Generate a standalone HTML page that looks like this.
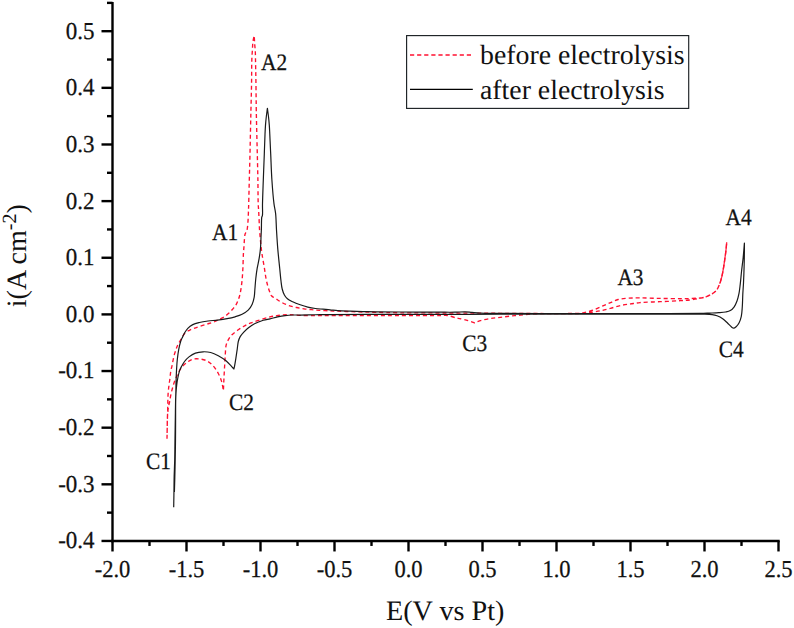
<!DOCTYPE html>
<html><head><meta charset="utf-8"><style>
html,body{margin:0;padding:0;background:#fff;overflow:hidden;width:794px;height:628px;}
svg{display:block;}
text{text-rendering:geometricPrecision;}
.t{font-family:"Liberation Serif",serif;font-size:23px;fill:#111;stroke:#111;stroke-width:0.25px;}
.ttl{font-family:"Liberation Serif",serif;font-size:27.8px;fill:#111;}
.ann{font-family:"Liberation Serif",serif;font-size:23.5px;fill:#111;stroke:#111;stroke-width:0.25px;}
</style></head><body>
<svg width="794" height="628" viewBox="0 0 794 628">
<path d="M167.00,438.70 C167.07,435.37 167.15,431.92 167.20,428.70 C167.25,425.70 167.23,422.74 167.30,420.00 C167.37,417.54 167.52,415.52 167.60,413.00 C167.69,410.05 167.72,406.59 167.80,403.40 C167.88,400.22 167.90,396.93 168.10,393.90 C168.28,391.12 168.58,388.56 168.90,385.90 C169.22,383.26 169.68,380.56 170.00,378.00 C170.30,375.60 170.43,373.15 170.80,371.00 C171.12,369.13 171.57,367.80 172.00,365.80 C172.58,363.11 173.19,359.10 173.90,356.30 C174.48,354.03 175.19,352.04 175.80,350.20 C176.31,348.66 176.62,347.51 177.30,346.00 C178.15,344.10 179.45,341.89 180.70,339.80 C182.04,337.56 183.44,334.64 185.10,333.00 C186.41,331.70 187.93,331.07 189.40,330.30 C190.83,329.55 192.13,329.05 193.80,328.40 C195.96,327.56 198.78,326.62 201.30,325.80 C203.82,324.98 206.52,324.26 208.90,323.50 C211.02,322.83 212.99,322.30 214.90,321.50 C216.75,320.72 218.53,319.64 220.20,318.80 C221.68,318.05 222.99,317.60 224.40,316.70 C226.02,315.66 227.85,314.15 229.30,312.80 C230.62,311.57 231.71,310.25 232.80,309.00 C233.80,307.85 234.77,306.91 235.60,305.60 C236.54,304.12 237.31,302.21 238.00,300.50 C238.67,298.84 239.21,297.35 239.70,295.50 C240.28,293.29 240.71,290.63 241.10,288.10 C241.51,285.47 241.82,282.96 242.10,280.00 C242.44,276.44 242.69,272.32 242.90,268.20 C243.13,263.66 243.18,257.70 243.40,253.90 C243.54,251.37 243.73,249.88 243.90,247.60 C244.10,244.89 244.24,241.24 244.50,238.70 C244.70,236.79 244.72,234.97 245.20,233.70 C245.54,232.80 246.25,232.44 246.60,231.60 C247.04,230.55 247.18,229.32 247.40,227.80 C247.73,225.59 247.92,222.44 248.10,219.60 C248.30,216.53 248.39,212.84 248.50,210.00 C248.58,207.74 248.62,206.60 248.70,203.90 C248.85,198.55 249.09,188.14 249.30,180.00 C249.52,171.49 249.80,162.41 250.00,153.90 C250.19,145.76 250.34,137.42 250.50,130.00 C250.64,123.52 250.76,117.66 250.90,111.80 C251.03,106.32 251.18,101.20 251.30,95.90 C251.42,90.60 251.53,85.15 251.60,80.00 C251.66,75.13 251.63,69.84 251.70,65.80 C251.75,62.78 251.78,60.53 251.90,57.90 C252.02,55.27 252.23,52.64 252.40,50.00 C252.57,47.34 252.57,44.51 252.90,42.00 C253.20,39.74 253.77,37.73 254.20,35.60 C254.37,38.33 254.51,41.11 254.70,43.80 C254.88,46.41 255.17,48.87 255.30,51.50 C255.44,54.26 255.44,57.07 255.50,60.00 C255.57,63.15 255.63,66.50 255.70,69.80 C255.77,73.17 255.84,76.22 255.90,80.00 C255.98,84.71 256.03,90.60 256.10,95.90 C256.17,101.20 256.21,106.32 256.30,111.80 C256.40,117.66 256.55,123.52 256.70,130.00 C256.87,137.42 257.10,145.76 257.30,153.90 C257.50,162.41 257.75,171.49 257.90,180.00 C258.04,188.14 257.99,198.55 258.20,203.90 C258.31,206.60 258.47,207.74 258.60,210.00 C258.77,212.84 258.95,216.41 259.10,219.60 C259.25,222.77 259.31,226.04 259.50,229.10 C259.68,231.96 259.94,234.54 260.20,237.40 C260.47,240.46 260.77,243.98 261.10,246.90 C261.38,249.41 261.59,251.16 262.00,253.90 C262.58,257.83 263.67,263.71 264.40,268.20 C265.05,272.19 265.54,276.26 266.20,279.50 C266.70,281.98 267.19,283.88 267.80,286.00 C268.40,288.08 269.11,290.34 269.80,292.10 C270.35,293.50 270.59,294.74 271.50,295.80 C272.55,297.03 274.43,297.78 276.00,298.80 C277.69,299.91 279.33,301.14 281.30,302.20 C283.56,303.42 286.33,304.71 288.90,305.60 C291.40,306.46 293.97,306.96 296.50,307.50 C299.00,308.03 301.49,308.43 304.00,308.80 C306.52,309.17 309.07,309.45 311.60,309.70 C314.11,309.95 316.37,310.12 319.10,310.30 C322.39,310.52 326.67,310.74 330.00,310.90 C332.82,311.03 334.89,311.10 337.80,311.20 C341.50,311.33 346.20,311.47 350.40,311.60 C354.60,311.73 358.80,311.88 363.00,312.00 C367.20,312.12 370.71,312.19 375.60,312.30 C382.40,312.45 390.42,312.68 400.00,312.80 C413.71,312.97 433.33,312.92 450.00,313.00 C466.67,313.08 482.57,313.20 500.00,313.30 C519.09,313.40 545.84,313.60 560.00,313.60 C567.75,313.60 573.59,313.84 578.00,313.50 C580.58,313.30 581.90,313.06 584.10,312.60 C586.78,312.04 589.90,311.25 592.90,310.20 C596.19,309.04 599.88,307.14 603.00,305.80 C605.68,304.64 607.99,303.65 610.50,302.60 C613.02,301.55 615.34,300.23 618.10,299.50 C621.18,298.69 624.70,298.47 628.20,298.20 C631.97,297.91 635.54,297.90 640.00,297.90 C645.83,297.90 653.47,298.27 660.20,298.40 C666.91,298.53 674.74,298.71 680.30,298.70 C684.24,298.69 687.03,298.63 690.40,298.50 C693.77,298.37 697.58,298.30 700.50,297.90 C702.77,297.59 704.54,297.29 706.50,296.60 C708.55,295.88 710.75,294.76 712.50,293.60 C714.07,292.56 715.46,291.57 716.60,290.10 C717.88,288.45 718.76,286.12 719.60,284.00 C720.46,281.83 721.10,279.57 721.70,277.20 C722.35,274.66 722.83,271.86 723.30,269.20 C723.76,266.56 724.10,264.12 724.50,261.30 C724.96,258.07 725.52,254.17 725.90,250.90 C726.24,247.98 726.43,245.37 726.70,242.60 C726.43,245.37 726.24,247.98 725.90,250.90 C725.52,254.17 724.96,258.07 724.50,261.30 C724.10,264.12 723.76,266.56 723.30,269.20 C722.83,271.86 722.35,274.66 721.70,277.20 C721.10,279.57 720.46,281.83 719.60,284.00 C718.76,286.12 717.88,288.45 716.60,290.10 C715.46,291.57 714.07,292.56 712.50,293.60 C710.75,294.76 708.54,295.83 706.50,296.60 C704.54,297.34 702.77,297.71 700.50,298.20 C697.58,298.83 693.78,299.48 690.40,299.90 C687.04,300.31 684.24,300.45 680.30,300.70 C674.74,301.06 666.91,301.38 660.20,301.70 C653.48,302.02 645.43,302.10 640.00,302.60 C636.30,302.94 633.76,303.46 630.70,303.90 C627.73,304.33 625.00,304.55 621.90,305.20 C618.32,305.95 614.18,307.34 610.50,308.30 C607.06,309.20 603.62,310.14 600.50,310.80 C597.80,311.37 595.54,311.71 592.90,312.10 C590.06,312.52 587.31,312.96 584.00,313.20 C579.87,313.50 574.75,313.43 570.00,313.50 C565.09,313.57 560.00,313.58 555.00,313.60 C550.00,313.62 544.43,313.48 540.00,313.60 C536.47,313.69 533.70,313.86 530.50,314.10 C527.21,314.35 523.84,314.77 520.50,315.10 C517.14,315.43 513.76,315.73 510.40,316.10 C507.03,316.47 503.67,316.88 500.30,317.30 C496.93,317.72 493.55,318.03 490.20,318.60 C486.85,319.17 483.03,319.88 480.20,320.70 C478.04,321.33 476.47,322.10 474.60,322.80 C472.43,322.10 470.40,321.37 468.10,320.70 C465.56,319.96 462.17,319.06 460.00,318.60 C458.57,318.30 457.86,318.32 456.40,318.00 C454.06,317.48 450.28,315.88 447.40,315.50 C444.84,315.16 443.45,315.54 440.00,315.55 C431.98,315.58 415.19,315.54 400.00,315.55 C379.91,315.56 344.09,315.64 330.00,315.65 C323.90,315.65 321.54,315.69 316.90,315.65 C311.62,315.60 304.94,315.57 300.00,315.35 C296.14,315.18 292.87,314.63 289.70,314.60 C286.98,314.57 284.49,314.78 282.10,315.00 C279.95,315.20 278.02,315.48 276.00,315.80 C273.99,316.12 272.22,316.37 270.00,316.90 C267.14,317.59 263.47,318.80 260.30,319.80 C257.21,320.77 253.75,321.86 251.20,322.80 C249.30,323.50 247.84,324.02 246.30,324.80 C244.81,325.56 243.43,326.58 242.10,327.40 C240.91,328.14 239.90,328.69 238.70,329.50 C237.26,330.47 235.47,331.78 234.10,332.90 C232.91,333.88 231.87,334.64 230.90,335.80 C229.81,337.10 228.80,338.79 228.00,340.40 C227.20,341.99 226.55,343.45 226.10,345.40 C225.52,347.93 225.53,351.30 225.30,354.40 C225.06,357.69 224.90,361.01 224.70,364.60 C224.47,368.60 224.21,373.01 224.00,377.30 C223.78,381.71 223.60,386.23 223.40,390.70 C222.77,387.50 222.41,384.07 221.50,381.10 C220.67,378.37 219.63,375.97 218.30,373.50 C216.90,370.90 215.19,368.06 213.20,365.90 C211.32,363.86 209.16,361.97 206.80,360.80 C204.49,359.66 201.62,359.16 199.20,358.90 C197.04,358.67 194.89,358.62 193.00,359.10 C191.24,359.54 189.74,360.51 188.20,361.50 C186.57,362.55 184.95,363.80 183.50,365.30 C181.93,366.93 180.38,369.06 179.20,371.00 C178.11,372.80 177.40,374.70 176.60,376.50 C175.84,378.20 175.16,379.67 174.50,381.50 C173.74,383.62 173.03,386.20 172.40,388.50 C171.80,390.70 171.26,392.80 170.80,395.00 C170.33,397.23 170.02,399.65 169.60,401.80 C169.22,403.76 168.72,405.38 168.40,407.40 C168.03,409.73 167.80,412.12 167.60,415.00 C167.35,418.75 167.30,423.88 167.20,428.00 C167.11,431.74 167.07,435.13 167.00,438.70" fill="none" stroke="#ff1030" stroke-width="1.35" stroke-dasharray="4 3" stroke-linejoin="round"/><path d="M173.70,507.30 C173.77,503.33 173.84,499.68 173.90,495.40 C173.97,490.39 173.98,484.75 174.10,479.10 C174.23,472.98 174.55,466.58 174.70,460.00 C174.86,452.97 174.90,445.23 175.00,438.20 C175.10,431.62 175.20,425.47 175.30,419.10 C175.40,412.73 175.48,405.35 175.60,400.00 C175.69,396.13 175.82,393.32 175.90,390.00 C175.98,386.72 175.99,383.60 176.10,380.20 C176.22,376.52 176.38,372.32 176.60,368.70 C176.79,365.46 176.96,362.62 177.30,359.50 C177.65,356.25 178.12,352.67 178.70,349.60 C179.21,346.89 179.82,344.14 180.50,342.00 C181.02,340.37 181.57,339.24 182.20,337.80 C182.89,336.24 183.59,334.56 184.50,333.00 C185.45,331.38 186.45,329.68 187.80,328.30 C189.20,326.86 190.93,325.56 192.80,324.60 C194.77,323.59 197.03,323.08 199.40,322.50 C202.06,321.85 205.05,321.40 208.00,321.00 C211.08,320.59 214.33,320.48 217.50,320.10 C220.70,319.72 224.06,319.28 227.10,318.70 C229.90,318.16 232.54,317.56 235.10,316.80 C237.53,316.08 239.91,315.40 242.10,314.30 C244.28,313.20 246.51,311.89 248.20,310.20 C249.87,308.52 251.20,306.37 252.20,304.20 C253.21,302.01 253.75,299.57 254.20,297.10 C254.67,294.51 254.65,291.87 254.90,289.00 C255.18,285.73 255.41,281.98 255.80,278.50 C256.18,275.05 256.64,271.56 257.20,268.20 C257.74,264.96 258.56,261.97 259.10,258.70 C259.67,255.25 260.17,251.75 260.50,248.00 C260.86,243.88 260.93,238.49 261.10,235.00 C261.21,232.65 261.30,231.42 261.40,229.10 C261.54,225.78 261.33,218.97 261.80,217.00 C261.96,216.32 262.25,216.37 262.40,215.70 C262.83,213.77 262.40,208.59 262.50,204.00 C262.64,197.42 263.01,188.17 263.30,180.00 C263.61,171.48 264.00,161.96 264.30,153.90 C264.56,146.95 264.76,139.81 265.00,134.50 C265.16,130.80 265.27,128.14 265.50,125.10 C265.71,122.22 265.98,119.49 266.30,116.70 C266.62,113.92 267.03,111.17 267.40,108.40 C267.77,111.17 268.18,113.92 268.50,116.70 C268.82,119.49 269.09,122.22 269.30,125.10 C269.53,128.14 269.62,130.80 269.80,134.50 C270.06,139.81 270.38,146.95 270.70,153.90 C271.07,161.96 271.33,171.50 271.90,180.00 C272.45,188.15 273.21,197.75 274.00,203.90 C274.50,207.80 275.20,209.78 275.60,213.40 C276.13,218.15 276.15,224.27 276.50,230.00 C276.88,236.14 277.27,242.74 277.80,249.10 C278.33,255.47 279.12,262.47 279.70,268.20 C280.17,272.89 280.53,277.24 281.00,281.00 C281.38,283.98 281.57,286.55 282.20,289.00 C282.76,291.17 283.44,293.29 284.40,295.00 C285.23,296.49 286.13,297.71 287.40,298.80 C288.83,300.02 290.75,300.86 292.70,301.80 C294.95,302.88 297.67,303.91 300.20,304.80 C302.71,305.68 305.25,306.48 307.80,307.10 C310.32,307.71 312.87,308.15 315.40,308.50 C317.90,308.85 320.43,308.98 322.90,309.20 C325.30,309.41 327.58,309.57 330.00,309.80 C332.54,310.04 334.89,310.38 337.80,310.60 C341.50,310.88 346.20,311.03 350.40,311.20 C354.60,311.37 358.80,311.50 363.00,311.60 C367.20,311.70 370.71,311.74 375.60,311.80 C382.40,311.88 390.87,311.94 400.00,312.00 C411.69,312.08 429.87,312.17 440.00,312.20 C446.20,312.22 450.51,312.29 455.00,312.20 C458.67,312.13 461.97,311.73 465.00,311.80 C467.54,311.86 469.59,312.21 472.00,312.40 C474.58,312.61 476.73,312.85 480.00,313.00 C485.16,313.23 492.19,313.22 500.00,313.30 C511.05,313.41 525.32,313.45 540.00,313.50 C557.98,313.56 580.91,313.60 600.00,313.60 C617.43,313.60 633.33,313.53 650.00,313.50 C666.67,313.47 689.96,313.57 700.00,313.40 C704.33,313.33 706.18,313.22 709.30,313.10 C712.47,312.98 715.99,312.91 718.90,312.70 C721.34,312.52 723.58,312.40 725.60,312.00 C727.32,311.66 728.90,311.42 730.30,310.60 C731.78,309.73 733.11,308.31 734.20,306.80 C735.38,305.16 736.22,303.10 737.00,301.00 C737.86,298.68 738.47,296.04 739.00,293.40 C739.56,290.59 739.81,287.87 740.20,284.60 C740.69,280.52 741.10,275.37 741.60,270.80 C742.10,266.27 742.74,261.87 743.20,257.30 C743.67,252.61 744.00,247.77 744.40,243.00 C744.40,245.63 744.43,247.81 744.40,250.90 C744.36,255.28 744.25,261.48 744.10,266.80 C743.95,272.18 743.74,278.09 743.50,283.00 C743.30,287.11 743.00,290.44 742.80,294.30 C742.59,298.36 742.58,302.92 742.30,306.80 C742.05,310.19 741.93,313.44 741.30,316.30 C740.76,318.76 739.99,321.15 739.00,323.00 C738.19,324.52 737.11,325.90 736.10,326.80 C735.33,327.48 734.50,328.20 733.70,328.20 C732.90,328.20 732.15,327.45 731.30,326.80 C730.12,325.89 728.86,324.29 727.50,323.00 C726.01,321.59 724.45,319.90 722.70,318.70 C720.95,317.50 718.86,316.49 717.00,315.80 C715.37,315.19 714.00,314.88 712.20,314.60 C709.97,314.25 707.28,314.18 704.60,314.10 C701.59,314.01 699.51,314.14 695.00,314.15 C684.20,314.18 656.88,314.15 640.00,314.15 C625.61,314.15 614.68,314.15 600.00,314.15 C582.02,314.15 557.98,314.13 540.00,314.15 C525.32,314.17 514.08,314.22 500.00,314.25 C484.26,314.29 466.67,314.33 450.00,314.35 C433.33,314.37 418.07,314.32 400.00,314.35 C378.62,314.38 344.63,314.43 330.00,314.55 C323.32,314.61 320.32,314.67 315.40,314.75 C310.38,314.83 304.38,315.02 300.20,315.05 C297.26,315.07 295.21,314.91 292.70,315.00 C290.17,315.09 287.62,315.28 285.10,315.60 C282.58,315.92 280.10,316.37 277.60,316.90 C275.07,317.44 272.46,318.22 270.00,318.80 C267.70,319.34 265.65,319.57 263.30,320.30 C260.53,321.15 257.09,322.44 254.50,323.80 C252.24,324.99 250.33,326.37 248.50,327.80 C246.78,329.15 245.21,330.59 243.80,332.10 C242.46,333.53 241.13,334.99 240.20,336.60 C239.32,338.14 238.78,339.65 238.30,341.50 C237.71,343.77 237.59,346.61 237.20,349.30 C236.79,352.17 236.35,355.34 235.90,358.20 C235.48,360.86 234.99,363.91 234.60,365.90 C234.35,367.17 234.13,367.97 233.90,369.00 C232.97,367.97 232.19,367.05 231.10,365.90 C229.67,364.39 227.97,362.41 226.00,360.80 C223.77,358.98 220.93,357.11 218.30,355.70 C215.82,354.37 213.29,353.15 210.70,352.50 C208.19,351.87 205.55,351.70 203.00,351.80 C200.45,351.90 197.75,352.23 195.40,353.10 C193.09,353.95 190.86,355.44 189.00,356.90 C187.27,358.26 185.77,359.86 184.50,361.50 C183.29,363.07 182.35,364.89 181.50,366.50 C180.75,367.91 180.16,369.00 179.60,370.60 C178.87,372.68 178.30,375.47 177.80,378.00 C177.29,380.60 176.90,383.42 176.60,386.00 C176.32,388.41 176.15,390.67 176.00,393.00 C175.85,395.33 175.77,397.07 175.70,400.00 C175.58,404.96 175.63,413.33 175.60,420.00 C175.57,426.67 175.57,433.33 175.50,440.00 C175.43,446.67 175.32,453.51 175.20,460.00 C175.09,466.16 174.94,472.38 174.80,478.00 C174.67,482.96 174.53,487.33 174.40,492.00" fill="none" stroke="#1a1a1a" stroke-width="1.2" stroke-linejoin="round"/><path d="M726.70,242.60 C726.43,245.37 726.24,247.98 725.90,250.90 C725.52,254.17 724.96,258.07 724.50,261.30 C724.10,264.12 723.76,266.56 723.30,269.20 C722.83,271.86 722.31,274.72 721.70,277.20 C721.16,279.41 720.50,281.33 719.90,283.40" fill="none" stroke="#ff1030" stroke-width="1.3" stroke-linecap="round" stroke-opacity="0.85"/>
<line x1="112.5" y1="2" x2="112.5" y2="542.1600000000001" stroke="#000" stroke-width="2.4"/><line x1="111.3" y1="540.96" x2="779.7" y2="540.96" stroke="#000" stroke-width="2.4"/><line x1="101.5" y1="540.96" x2="112.5" y2="540.96" stroke="#000" stroke-width="2.4"/><text transform="translate(94.6,548.39) scale(1,1.06)" text-anchor="end" class="t">-0.4</text><line x1="107.0" y1="512.64" x2="112.5" y2="512.64" stroke="#000" stroke-width="2.4"/><line x1="101.5" y1="484.32" x2="112.5" y2="484.32" stroke="#000" stroke-width="2.4"/><text transform="translate(94.6,491.75) scale(1,1.06)" text-anchor="end" class="t">-0.3</text><line x1="107.0" y1="456.00" x2="112.5" y2="456.00" stroke="#000" stroke-width="2.4"/><line x1="101.5" y1="427.68" x2="112.5" y2="427.68" stroke="#000" stroke-width="2.4"/><text transform="translate(94.6,435.11) scale(1,1.06)" text-anchor="end" class="t">-0.2</text><line x1="107.0" y1="399.36" x2="112.5" y2="399.36" stroke="#000" stroke-width="2.4"/><line x1="101.5" y1="371.04" x2="112.5" y2="371.04" stroke="#000" stroke-width="2.4"/><text transform="translate(94.6,378.47) scale(1,1.06)" text-anchor="end" class="t">-0.1</text><line x1="107.0" y1="342.72" x2="112.5" y2="342.72" stroke="#000" stroke-width="2.4"/><line x1="101.5" y1="314.40" x2="112.5" y2="314.40" stroke="#000" stroke-width="2.4"/><text transform="translate(94.6,321.83) scale(1,1.06)" text-anchor="end" class="t">0.0</text><line x1="107.0" y1="286.08" x2="112.5" y2="286.08" stroke="#000" stroke-width="2.4"/><line x1="101.5" y1="257.76" x2="112.5" y2="257.76" stroke="#000" stroke-width="2.4"/><text transform="translate(94.6,265.19) scale(1,1.06)" text-anchor="end" class="t">0.1</text><line x1="107.0" y1="229.44" x2="112.5" y2="229.44" stroke="#000" stroke-width="2.4"/><line x1="101.5" y1="201.12" x2="112.5" y2="201.12" stroke="#000" stroke-width="2.4"/><text transform="translate(94.6,208.55) scale(1,1.06)" text-anchor="end" class="t">0.2</text><line x1="107.0" y1="172.80" x2="112.5" y2="172.80" stroke="#000" stroke-width="2.4"/><line x1="101.5" y1="144.48" x2="112.5" y2="144.48" stroke="#000" stroke-width="2.4"/><text transform="translate(94.6,151.91) scale(1,1.06)" text-anchor="end" class="t">0.3</text><line x1="107.0" y1="116.16" x2="112.5" y2="116.16" stroke="#000" stroke-width="2.4"/><line x1="101.5" y1="87.84" x2="112.5" y2="87.84" stroke="#000" stroke-width="2.4"/><text transform="translate(94.6,95.27) scale(1,1.06)" text-anchor="end" class="t">0.4</text><line x1="107.0" y1="59.52" x2="112.5" y2="59.52" stroke="#000" stroke-width="2.4"/><line x1="101.5" y1="31.20" x2="112.5" y2="31.20" stroke="#000" stroke-width="2.4"/><text transform="translate(94.6,38.63) scale(1,1.06)" text-anchor="end" class="t">0.5</text><line x1="107.0" y1="2.88" x2="112.5" y2="2.88" stroke="#000" stroke-width="2.4"/><line x1="112.50" y1="540.96" x2="112.50" y2="551.46" stroke="#000" stroke-width="2.4"/><text transform="translate(112.50,576.8) scale(0.98,1.06)" text-anchor="middle" class="t">-2.0</text><line x1="149.50" y1="540.96" x2="149.50" y2="545.96" stroke="#000" stroke-width="2.4"/><line x1="186.50" y1="540.96" x2="186.50" y2="551.46" stroke="#000" stroke-width="2.4"/><text transform="translate(186.50,576.8) scale(0.98,1.06)" text-anchor="middle" class="t">-1.5</text><line x1="223.50" y1="540.96" x2="223.50" y2="545.96" stroke="#000" stroke-width="2.4"/><line x1="260.50" y1="540.96" x2="260.50" y2="551.46" stroke="#000" stroke-width="2.4"/><text transform="translate(260.50,576.8) scale(0.98,1.06)" text-anchor="middle" class="t">-1.0</text><line x1="297.50" y1="540.96" x2="297.50" y2="545.96" stroke="#000" stroke-width="2.4"/><line x1="334.50" y1="540.96" x2="334.50" y2="551.46" stroke="#000" stroke-width="2.4"/><text transform="translate(334.50,576.8) scale(0.98,1.06)" text-anchor="middle" class="t">-0.5</text><line x1="371.50" y1="540.96" x2="371.50" y2="545.96" stroke="#000" stroke-width="2.4"/><line x1="408.50" y1="540.96" x2="408.50" y2="551.46" stroke="#000" stroke-width="2.4"/><text transform="translate(408.50,576.8) scale(0.98,1.06)" text-anchor="middle" class="t">0.0</text><line x1="445.50" y1="540.96" x2="445.50" y2="545.96" stroke="#000" stroke-width="2.4"/><line x1="482.50" y1="540.96" x2="482.50" y2="551.46" stroke="#000" stroke-width="2.4"/><text transform="translate(482.50,576.8) scale(0.98,1.06)" text-anchor="middle" class="t">0.5</text><line x1="519.50" y1="540.96" x2="519.50" y2="545.96" stroke="#000" stroke-width="2.4"/><line x1="556.50" y1="540.96" x2="556.50" y2="551.46" stroke="#000" stroke-width="2.4"/><text transform="translate(556.50,576.8) scale(0.98,1.06)" text-anchor="middle" class="t">1.0</text><line x1="593.50" y1="540.96" x2="593.50" y2="545.96" stroke="#000" stroke-width="2.4"/><line x1="630.50" y1="540.96" x2="630.50" y2="551.46" stroke="#000" stroke-width="2.4"/><text transform="translate(630.50,576.8) scale(0.98,1.06)" text-anchor="middle" class="t">1.5</text><line x1="667.50" y1="540.96" x2="667.50" y2="545.96" stroke="#000" stroke-width="2.4"/><line x1="704.50" y1="540.96" x2="704.50" y2="551.46" stroke="#000" stroke-width="2.4"/><text transform="translate(704.50,576.8) scale(0.98,1.06)" text-anchor="middle" class="t">2.0</text><line x1="741.50" y1="540.96" x2="741.50" y2="545.96" stroke="#000" stroke-width="2.4"/><line x1="778.50" y1="540.96" x2="778.50" y2="551.46" stroke="#000" stroke-width="2.4"/><text transform="translate(778.50,576.8) scale(0.98,1.06)" text-anchor="middle" class="t">2.5</text><text x="386" y="619.7" class="ttl" style="font-size:28.2px">E(V vs Pt)</text><text transform="translate(26.3,307.2) rotate(-90)" x="0" y="0" class="ttl" style="font-size:28px">i(A cm<tspan dy="-10.5" font-size="20">-2</tspan><tspan dy="10.5">)</tspan></text><text transform="translate(212,240.4) scale(0.91,1)" class="ann">A1</text><text transform="translate(261,70.1) scale(0.91,1)" class="ann">A2</text><text transform="translate(617.4,285.3) scale(0.91,1)" class="ann">A3</text><text transform="translate(725.6,224.9) scale(0.91,1)" class="ann">A4</text><text transform="translate(145.9,469.2) scale(0.91,1)" class="ann">C1</text><text transform="translate(229,410.3) scale(0.91,1)" class="ann">C2</text><text transform="translate(462.2,351.1) scale(0.91,1)" class="ann">C3</text><text transform="translate(718.8,357) scale(0.91,1)" class="ann">C4</text><rect x="406.6" y="35.6" width="282.1" height="72.8" fill="#fff" stroke="#1c2124" stroke-width="1.15"/><line x1="410" y1="55" x2="472" y2="55" stroke="#ff1030" stroke-width="1.6" stroke-dasharray="4.2 2.9"/><line x1="410" y1="89.4" x2="472.8" y2="89.4" stroke="#000" stroke-width="1.4"/><text x="480" y="64.2" class="ttl">before electrolysis</text><text x="480" y="98.8" class="ttl">after electrolysis</text>
</svg>
</body></html>
